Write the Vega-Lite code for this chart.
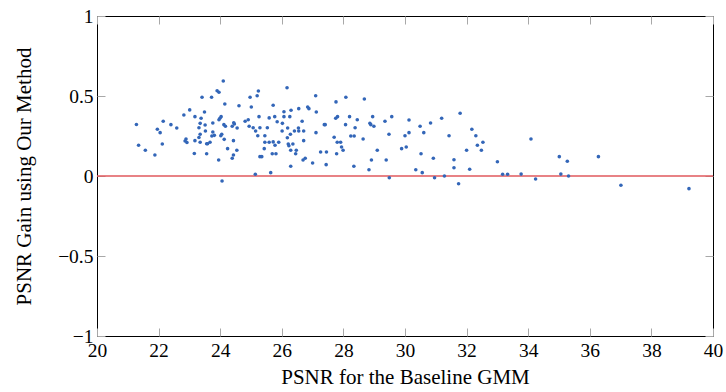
{
  "$schema": "https://vega.github.io/schema/vega-lite/v6.json",
  "width": 616,
  "height": 320,
  "autosize": {"type": "none"},
  "padding": {"left": 97, "top": 16, "right": 13, "bottom": 56},
  "background": "white",
  "config": {
    "view": {"stroke": "#000000", "strokeWidth": 1},
    "font": "Liberation Serif",
    "axis": {
      "domain": false,
      "grid": false,
      "labelFont": "Liberation Serif",
      "titleFont": "Liberation Serif",
      "labelFontSize": 19.5,
      "titleFontSize": 21,
      "titleFontWeight": "normal",
      "labelColor": "#000000",
      "titleColor": "#000000",
      "tickColor": "#a8a8a8",
      "tickSize": -8,
      "tickWidth": 1
    }
  },
  "datasets": {
    "pts": [
      {"x": 21.28, "y": 0.322}, {"x": 21.35, "y": 0.192}, {"x": 21.57, "y": 0.161}, {"x": 21.88, "y": 0.131},
      {"x": 21.96, "y": 0.292}, {"x": 22.05, "y": 0.271}, {"x": 22.12, "y": 0.2}, {"x": 22.15, "y": 0.342},
      {"x": 22.4, "y": 0.321}, {"x": 22.59, "y": 0.3}, {"x": 22.82, "y": 0.381}, {"x": 23.01, "y": 0.413},
      {"x": 23.18, "y": 0.371}, {"x": 23.41, "y": 0.492}, {"x": 22.86, "y": 0.219}, {"x": 22.89, "y": 0.231},
      {"x": 22.92, "y": 0.209}, {"x": 23.16, "y": 0.141}, {"x": 23.18, "y": 0.221}, {"x": 23.31, "y": 0.302},
      {"x": 23.35, "y": 0.329}, {"x": 23.38, "y": 0.361}, {"x": 23.31, "y": 0.241}, {"x": 23.35, "y": 0.261},
      {"x": 23.35, "y": 0.211}, {"x": 23.49, "y": 0.4},
      {"x": 23.51, "y": 0.319}, {"x": 23.52, "y": 0.281}, {"x": 23.72, "y": 0.492}, {"x": 23.9, "y": 0.533},
      {"x": 23.96, "y": 0.523}, {"x": 24.1, "y": 0.594}, {"x": 24.15, "y": 0.45}, {"x": 24.61, "y": 0.439},
      {"x": 24.97, "y": 0.492}, {"x": 25.2, "y": 0.502}, {"x": 25.24, "y": 0.531}, {"x": 25.01, "y": 0.431},
      {"x": 23.76, "y": 0.331}, {"x": 23.76, "y": 0.275}, {"x": 23.81, "y": 0.254}, {"x": 23.73, "y": 0.25},
      {"x": 23.56, "y": 0.202}, {"x": 23.59, "y": 0.202}, {"x": 23.67, "y": 0.211}, {"x": 23.56, "y": 0.139},
      {"x": 23.95, "y": 0.1}, {"x": 23.96, "y": 0.352}, {"x": 23.99, "y": 0.361}, {"x": 24.03, "y": 0.371},
      {"x": 24.12, "y": 0.321}, {"x": 24.17, "y": 0.311}, {"x": 24.02, "y": 0.252}, {"x": 24.05, "y": 0.261},
      {"x": 24.13, "y": 0.229}, {"x": 24.24, "y": 0.171}, {"x": 24.06, "y": -0.031}, {"x": 24.44, "y": 0.333},
      {"x": 24.46, "y": 0.325}, {"x": 24.39, "y": 0.311}, {"x": 24.55, "y": 0.3}, {"x": 24.43, "y": 0.221},
      {"x": 24.54, "y": 0.161}, {"x": 24.43, "y": 0.131}, {"x": 24.39, "y": 0.111}, {"x": 24.81, "y": 0.342},
      {"x": 24.91, "y": 0.352}, {"x": 24.94, "y": 0.311}, {"x": 25.07, "y": 0.302}, {"x": 25.15, "y": 0.281},
      {"x": 25.22, "y": 0.252}, {"x": 25.26, "y": 0.371}, {"x": 25.29, "y": 0.302}, {"x": 25.45, "y": 0.252},
      {"x": 25.45, "y": 0.211}, {"x": 25.43, "y": 0.171}, {"x": 25.53, "y": 0.302}, {"x": 25.59, "y": 0.363},
      {"x": 25.59, "y": 0.211}, {"x": 25.72, "y": 0.442}, {"x": 25.77, "y": 0.371}, {"x": 25.78, "y": 0.192},
      {"x": 25.72, "y": 0.213}, {"x": 25.85, "y": 0.339}, {"x": 25.9, "y": 0.211}, {"x": 25.69, "y": 0.139},
      {"x": 25.81, "y": 0.139}, {"x": 25.29, "y": 0.121}, {"x": 25.35, "y": 0.121}, {"x": 25.14, "y": 0.011},
      {"x": 25.64, "y": 0.021}, {"x": 26.07, "y": 0.402}, {"x": 26.07, "y": 0.371}, {"x": 26.02, "y": 0.329},
      {"x": 26.01, "y": 0.281},
      {"x": 26.17, "y": 0.552}, {"x": 26.3, "y": 0.411}, {"x": 26.26, "y": 0.371}, {"x": 26.19, "y": 0.3},
      {"x": 26.28, "y": 0.261}, {"x": 26.18, "y": 0.239}, {"x": 26.21, "y": 0.2}, {"x": 26.23, "y": 0.189},
      {"x": 26.36, "y": 0.2}, {"x": 26.41, "y": 0.281}, {"x": 26.54, "y": 0.3}, {"x": 26.55, "y": 0.281},
      {"x": 26.29, "y": 0.161}, {"x": 26.47, "y": 0.161}, {"x": 26.45, "y": 0.139}, {"x": 26.29, "y": 0.061},
      {"x": 26.55, "y": 0.421}, {"x": 26.66, "y": 0.342}, {"x": 26.71, "y": 0.281}, {"x": 26.71, "y": 0.221},
      {"x": 26.69, "y": 0.1}, {"x": 26.76, "y": 0.111}, {"x": 26.84, "y": 0.431}, {"x": 26.88, "y": 0.421},
      {"x": 27.1, "y": 0.502}, {"x": 27.12, "y": 0.4}, {"x": 27.11, "y": 0.271}, {"x": 27.0, "y": 0.081},
      {"x": 27.26, "y": 0.15}, {"x": 27.38, "y": 0.321}, {"x": 27.41, "y": 0.321}, {"x": 27.45, "y": 0.15},
      {"x": 27.44, "y": 0.071}, {"x": 27.7, "y": 0.242}, {"x": 27.76, "y": 0.463}, {"x": 27.75, "y": 0.361},
      {"x": 27.81, "y": 0.371}, {"x": 27.8, "y": 0.211}, {"x": 27.91, "y": 0.211}, {"x": 27.94, "y": 0.181},
      {"x": 27.99, "y": 0.161}, {"x": 27.78, "y": 0.139}, {"x": 28.08, "y": 0.492}, {"x": 28.07, "y": 0.321},
      {"x": 28.2, "y": 0.371}, {"x": 28.24, "y": 0.25}, {"x": 28.35, "y": 0.25}, {"x": 28.38, "y": 0.302},
      {"x": 28.45, "y": 0.352}, {"x": 28.34, "y": 0.061}, {"x": 28.64, "y": 0.231}, {"x": 28.68, "y": 0.481},
      {"x": 28.95, "y": 0.371}, {"x": 28.86, "y": 0.329}, {"x": 28.89, "y": 0.321}, {"x": 28.99, "y": 0.311},
      {"x": 29.1, "y": 0.161}, {"x": 28.91, "y": 0.1}, {"x": 28.83, "y": 0.039}, {"x": 29.35, "y": 0.342},
      {"x": 29.57, "y": 0.371}, {"x": 29.48, "y": 0.261}, {"x": 29.39, "y": 0.1}, {"x": 29.49, "y": -0.011},
      {"x": 29.89, "y": 0.171}, {"x": 30.04, "y": 0.181}, {"x": 30.0, "y": 0.252}, {"x": 30.13, "y": 0.35},
      {"x": 30.13, "y": 0.271}, {"x": 30.35, "y": 0.039}, {"x": 30.56, "y": 0.021}, {"x": 30.52, "y": 0.139},
      {"x": 30.49, "y": 0.311}, {"x": 30.61, "y": 0.271}, {"x": 30.83, "y": 0.331}, {"x": 30.92, "y": 0.111},
      {"x": 30.96, "y": -0.011}, {"x": 31.19, "y": 0.361}, {"x": 31.28, "y": 0.0},
      {"x": 31.43, "y": 0.252}, {"x": 31.79, "y": 0.392}, {"x": 32.17, "y": 0.292}, {"x": 32.3, "y": 0.252},
      {"x": 32.35, "y": 0.192}, {"x": 32.53, "y": 0.211}, {"x": 32.48, "y": 0.161}, {"x": 32.0, "y": 0.161},
      {"x": 31.59, "y": 0.102}, {"x": 31.59, "y": 0.052}, {"x": 32.1, "y": 0.042}, {"x": 31.74, "y": -0.048},
      {"x": 33.0, "y": 0.089}, {"x": 33.17, "y": 0.011}, {"x": 33.33, "y": 0.011}, {"x": 33.77, "y": 0.012},
      {"x": 34.09, "y": 0.231}, {"x": 34.24, "y": -0.019}, {"x": 35.01, "y": 0.121}, {"x": 35.06, "y": 0.012},
      {"x": 35.27, "y": 0.092}, {"x": 35.31, "y": 0.0}, {"x": 36.28, "y": 0.121}, {"x": 37.01, "y": -0.058},
      {"x": 39.22, "y": -0.079}
    ],
    "zero": [{"y": 0}]
  },
  "layer": [
    {
      "data": {"name": "zero"},
      "mark": {"type": "rule", "color": "#e0585c", "strokeWidth": 1.3},
      "encoding": {
        "y": {
          "field": "y", "type": "quantitative",
          "scale": {"domain": [-1, 1], "nice": false, "zero": false},
          "axis": {"orient": "right", "values": [-1, -0.5, 0, 0.5, 1], "labels": false, "title": null}
        }
      }
    },
    {
      "data": {"name": "pts"},
      "mark": {"type": "circle", "size": 13, "color": "#3366b8", "opacity": 1},
      "encoding": {
        "x": {
          "field": "x", "type": "quantitative",
          "scale": {"domain": [20, 40], "nice": false, "zero": false},
          "axis": {
            "orient": "bottom",
            "values": [20, 22, 24, 26, 28, 30, 32, 34, 36, 38, 40],
            "format": "~g",
            "labelPadding": 13,
            "labelFlush": false,
            "title": "PSNR for the Baseline GMM",
            "titlePadding": 7
          }
        },
        "y": {
          "field": "y", "type": "quantitative",
          "scale": {"domain": [-1, 1], "nice": false, "zero": false},
          "axis": {
            "orient": "left",
            "values": [-1, -0.5, 0, 0.5, 1],
            "format": "~g",
            "labelPadding": 12,
            "labelFlush": false,
            "title": "PSNR Gain using Our Method",
            "titlePadding": 23
          }
        }
      }
    },
    {
      "data": {"name": "zero"},
      "mark": {"type": "rule", "opacity": 0},
      "encoding": {
        "x": {
          "datum": 30, "type": "quantitative",
          "scale": {"domain": [20, 40], "nice": false, "zero": false},
          "axis": {"orient": "top", "values": [20, 22, 24, 26, 28, 30, 32, 34, 36, 38, 40], "labels": false, "title": null}
        }
      }
    }
  ],
  "resolve": {"axis": {"x": "independent", "y": "independent"}}
}
